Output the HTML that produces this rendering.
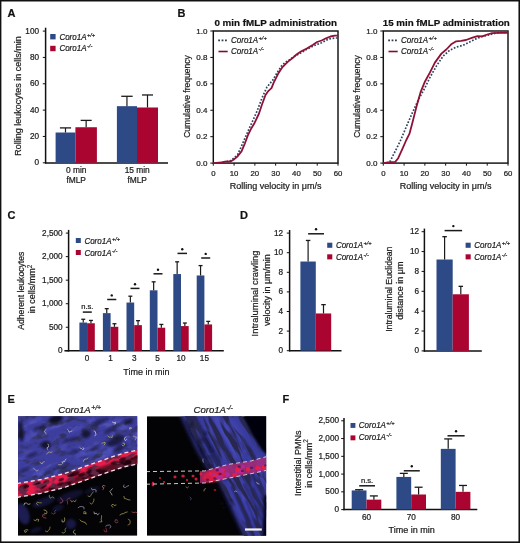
<!DOCTYPE html>
<html><head><meta charset="utf-8"><style>
html,body{margin:0;padding:0;background:#111;}
body{width:520px;height:543px;overflow:hidden;}
svg{display:block;font-family:'Liberation Sans', sans-serif;filter:blur(0.3px);}
text{stroke:#1c1c1c;stroke-width:0.22px;}
</style></head><body>
<svg width="520" height="543" viewBox="0 0 520 543">
<rect x="0" y="0" width="520" height="543" fill="#111"/>
<rect x="1.4" y="1.5" width="517.05" height="539.9" fill="#fff"/>
<defs>
<clipPath id="c1"><rect x="18" y="416.2" width="119.3" height="119.6"/></clipPath>
<clipPath id="c2"><rect x="147" y="416.2" width="119.2" height="119.6"/></clipPath>
<filter id="b1" x="-20%" y="-20%" width="140%" height="140%"><feGaussianBlur stdDeviation="1.2"/></filter>
<filter id="b2" x="-20%" y="-20%" width="140%" height="140%"><feGaussianBlur stdDeviation="2.2"/></filter>
<filter id="b3" x="-50%" y="-50%" width="200%" height="200%"><feGaussianBlur stdDeviation="3.5"/></filter>
<filter id="b05" x="-20%" y="-20%" width="140%" height="140%"><feGaussianBlur stdDeviation="0.5"/></filter>
<filter id="nz1" x="0" y="0" width="100%" height="100%"><feTurbulence type="fractalNoise" baseFrequency="0.08 0.13" numOctaves="3" seed="5"/><feColorMatrix type="matrix" values="0 0 0 0 0.03  0 0 0 0 0.03  0 0 0 0 0.12  4.5 0 0 0 -2.25"/></filter>
<filter id="nz2" x="0" y="0" width="100%" height="100%"><feTurbulence type="fractalNoise" baseFrequency="0.07 0.2" numOctaves="3" seed="9"/><feColorMatrix type="matrix" values="0 0 0 0 0.42  0 0 0 0 0.42  0 0 0 0 0.85  -4 0 0 0 1.75"/></filter>
<filter id="nz3" x="0" y="0" width="100%" height="100%"><feTurbulence type="fractalNoise" baseFrequency="0.12 0.25" numOctaves="2" seed="13"/><feColorMatrix type="matrix" values="0 0 0 0 0.12  0 0 0 0 0.02  0 0 0 0 0.06  5 0 0 0 -2.4"/></filter>
<filter id="nz4" x="0" y="0" width="100%" height="100%"><feTurbulence type="fractalNoise" baseFrequency="0.03 0.2" numOctaves="3" seed="21"/><feColorMatrix type="matrix" values="0 0 0 0 0.02  0 0 0 0 0.02  0 0 0 0 0.08  6.5 0 0 0 -2.9"/></filter>
<clipPath id="blue1"><path id="bp1" d="M14.0,412.0 L140.0,412.0 L140.0,445.0 L139.0,451.3 L124.2,454.4 L110.3,459.0 L87.2,467.1 L64.2,475.2 L41.0,481.0 L17.0,485.1 Z"/></clipPath>
<clipPath id="ves1"><path d="M17.0,483.6 L41.0,479.5 L64.2,473.7 L87.2,465.6 L110.3,457.5 L124.2,452.9 L139.0,449.8 L139.0,463.6 L124.2,466.8 L110.3,471.4 L87.2,479.5 L64.2,487.5 L41.0,493.3 L17.0,497.4 Z"/></clipPath>
<clipPath id="band2"><path d="M180.0,414.0 L240.0,414.0 L250.0,428.0 L258.0,440.0 L269.0,455.0 L269.0,515.0 L264.0,520.0 L264.0,538.0 L245.0,538.0 L234.0,515.0 L226.0,497.0 L219.0,481.0 L212.0,474.0 L205.0,464.0 L197.0,450.0 L190.0,435.0 Z"/></clipPath>
</defs>
<g clip-path="url(#c1)">
<rect x="18" y="416.2" width="119.3" height="119.6" fill="#040407"/>
<path d="M14.0,412.0 L140.0,412.0 L140.0,445.0 L139.0,451.3 L124.2,454.4 L110.3,459.0 L87.2,467.1 L64.2,475.2 L41.0,481.0 L17.0,485.1 Z" fill="#3c3e9e" filter="url(#b1)"/>
<ellipse cx="92.1" cy="450.0" rx="12.2" ry="3.9" fill="#5456c4" opacity="0.45" transform="rotate(-18 92.1 450.0)" filter="url(#b1)"/>
<ellipse cx="106.0" cy="453.8" rx="5.3" ry="2.9" fill="#5456c4" opacity="0.45" transform="rotate(-18 106.0 453.8)" filter="url(#b1)"/>
<ellipse cx="130.3" cy="437.8" rx="13.1" ry="2.2" fill="#5456c4" opacity="0.45" transform="rotate(-18 130.3 437.8)" filter="url(#b1)"/>
<ellipse cx="73.8" cy="428.9" rx="9.9" ry="3.1" fill="#5456c4" opacity="0.45" transform="rotate(-18 73.8 428.9)" filter="url(#b1)"/>
<ellipse cx="19.6" cy="430.1" rx="7.5" ry="3.8" fill="#5456c4" opacity="0.45" transform="rotate(-18 19.6 430.1)" filter="url(#b1)"/>
<ellipse cx="109.1" cy="422.4" rx="12.2" ry="2.3" fill="#5456c4" opacity="0.45" transform="rotate(-18 109.1 422.4)" filter="url(#b1)"/>
<ellipse cx="91.5" cy="421.8" rx="5.0" ry="3.7" fill="#5456c4" opacity="0.45" transform="rotate(-18 91.5 421.8)" filter="url(#b1)"/>
<ellipse cx="42.9" cy="429.1" rx="13.8" ry="3.7" fill="#5456c4" opacity="0.45" transform="rotate(-18 42.9 429.1)" filter="url(#b1)"/>
<ellipse cx="52.4" cy="472.4" rx="9.9" ry="3.4" fill="#5456c4" opacity="0.45" transform="rotate(-18 52.4 472.4)" filter="url(#b1)"/>
<ellipse cx="42.4" cy="473.5" rx="11.2" ry="3.9" fill="#5456c4" opacity="0.45" transform="rotate(-18 42.4 473.5)" filter="url(#b1)"/>
<ellipse cx="124.4" cy="426.4" rx="8.3" ry="2.3" fill="#5456c4" opacity="0.45" transform="rotate(-18 124.4 426.4)" filter="url(#b1)"/>
<ellipse cx="35.3" cy="420.1" rx="7.7" ry="3.2" fill="#5456c4" opacity="0.45" transform="rotate(-18 35.3 420.1)" filter="url(#b1)"/>
<ellipse cx="18.4" cy="460.3" rx="8.0" ry="2.6" fill="#5456c4" opacity="0.45" transform="rotate(-18 18.4 460.3)" filter="url(#b1)"/>
<ellipse cx="115.4" cy="434.2" rx="7.8" ry="3.0" fill="#5456c4" opacity="0.45" transform="rotate(-18 115.4 434.2)" filter="url(#b1)"/>
<ellipse cx="101.9" cy="418.4" rx="13.8" ry="2.0" fill="#5456c4" opacity="0.45" transform="rotate(-18 101.9 418.4)" filter="url(#b1)"/>
<ellipse cx="107.2" cy="450.3" rx="5.2" ry="3.6" fill="#5456c4" opacity="0.45" transform="rotate(-18 107.2 450.3)" filter="url(#b1)"/>
<ellipse cx="61.6" cy="448.6" rx="5.1" ry="2.1" fill="#5456c4" opacity="0.45" transform="rotate(-18 61.6 448.6)" filter="url(#b1)"/>
<ellipse cx="39.5" cy="475.0" rx="6.8" ry="3.5" fill="#5456c4" opacity="0.45" transform="rotate(-18 39.5 475.0)" filter="url(#b1)"/>
<ellipse cx="128.6" cy="448.0" rx="8.1" ry="2.7" fill="#5456c4" opacity="0.45" transform="rotate(-18 128.6 448.0)" filter="url(#b1)"/>
<ellipse cx="80.4" cy="454.8" rx="6.0" ry="3.5" fill="#5456c4" opacity="0.45" transform="rotate(-18 80.4 454.8)" filter="url(#b1)"/>
<ellipse cx="112.9" cy="449.2" rx="5.3" ry="3.9" fill="#5456c4" opacity="0.45" transform="rotate(-18 112.9 449.2)" filter="url(#b1)"/>
<ellipse cx="28.9" cy="437.7" rx="10.5" ry="3.8" fill="#5456c4" opacity="0.45" transform="rotate(-18 28.9 437.7)" filter="url(#b1)"/>
<ellipse cx="58.5" cy="468.8" rx="9.9" ry="2.6" fill="#5456c4" opacity="0.45" transform="rotate(-18 58.5 468.8)" filter="url(#b1)"/>
<ellipse cx="55.7" cy="426.3" rx="5.7" ry="2.3" fill="#5456c4" opacity="0.45" transform="rotate(-18 55.7 426.3)" filter="url(#b1)"/>
<ellipse cx="100.0" cy="459.0" rx="6.5" ry="2.1" fill="#5456c4" opacity="0.45" transform="rotate(-18 100.0 459.0)" filter="url(#b1)"/>
<ellipse cx="135.4" cy="433.4" rx="8.7" ry="2.5" fill="#5456c4" opacity="0.45" transform="rotate(-18 135.4 433.4)" filter="url(#b1)"/>
<g clip-path="url(#blue1)"><rect x="-40" y="380" width="220" height="180" filter="url(#nz1)" transform="rotate(-18 78 476)"/></g>
<g clip-path="url(#blue1)"><rect x="-40" y="380" width="220" height="180" filter="url(#nz2)" opacity="0.15" transform="rotate(-18 78 476)"/></g>
<ellipse cx="56" cy="419" rx="7" ry="4" fill="#0a0a22" opacity="0.95" transform="rotate(-20 56 419)" filter="url(#b1)"/>
<ellipse cx="21" cy="432" rx="3" ry="10" fill="#0a0a22" opacity="0.8" transform="rotate(-5 21 432)" filter="url(#b1)"/>
<ellipse cx="46" cy="445" rx="5" ry="4" fill="#0a0a22" opacity="0.85" transform="rotate(0 46 445)" filter="url(#b1)"/>
<ellipse cx="86" cy="434" rx="5" ry="4" fill="#0a0a22" opacity="0.8" transform="rotate(-20 86 434)" filter="url(#b1)"/>
<ellipse cx="116" cy="441" rx="10" ry="4" fill="#0a0a22" opacity="0.7" transform="rotate(-25 116 441)" filter="url(#b1)"/>
<ellipse cx="32" cy="455" rx="6" ry="2" fill="#0a0a22" opacity="0.5" transform="rotate(-20 32 455)" filter="url(#b1)"/>
<ellipse cx="100" cy="421" rx="10" ry="2.5" fill="#0a0a22" opacity="0.5" transform="rotate(-20 100 421)" filter="url(#b1)"/>
<ellipse cx="62" cy="466" rx="8" ry="2" fill="#0a0a22" opacity="0.5" transform="rotate(-20 62 466)" filter="url(#b1)"/>
<ellipse cx="132" cy="459" rx="6" ry="8" fill="#0a0a22" opacity="0.95" transform="rotate(0 132 459)" filter="url(#b1)"/>
<ellipse cx="74" cy="452" rx="5" ry="1.6" fill="#0a0a22" opacity="0.5" transform="rotate(-20 74 452)" filter="url(#b1)"/>
<ellipse cx="128" cy="422" rx="5" ry="3" fill="#0a0a22" opacity="0.6" transform="rotate(0 128 422)" filter="url(#b1)"/>
<ellipse cx="40" cy="428" rx="8" ry="2" fill="#0a0a22" opacity="0.45" transform="rotate(-20 40 428)" filter="url(#b1)"/>
<ellipse cx="70" cy="440" rx="8" ry="1.8" fill="#0a0a22" opacity="0.5" transform="rotate(-20 70 440)" filter="url(#b1)"/>
<ellipse cx="110" cy="430" rx="7" ry="2" fill="#0a0a22" opacity="0.5" transform="rotate(-20 110 430)" filter="url(#b1)"/>
<ellipse cx="25" cy="470" rx="6" ry="2" fill="#0a0a22" opacity="0.45" transform="rotate(-20 25 470)" filter="url(#b1)"/>
<ellipse cx="95" cy="448" rx="6" ry="2" fill="#0a0a22" opacity="0.45" transform="rotate(-20 95 448)" filter="url(#b1)"/>
<ellipse cx="50" cy="470" rx="5" ry="1.5" fill="#0a0a22" opacity="0.45" transform="rotate(-15 50 470)" filter="url(#b1)"/>
<ellipse cx="120" cy="448" rx="8" ry="3" fill="#0a0a22" opacity="0.6" transform="rotate(-30 120 448)" filter="url(#b1)"/>
<ellipse cx="23" cy="514" rx="6" ry="11" fill="#30328e" opacity="0.55" transform="rotate(-20 23 514)" filter="url(#b1)"/>
<ellipse cx="71" cy="524" rx="5" ry="5" fill="#30328e" opacity="0.45" transform="rotate(-20 71 524)" filter="url(#b1)"/>
<ellipse cx="44" cy="502" rx="12" ry="4" fill="#30328e" opacity="0.35" transform="rotate(-20 44 502)" filter="url(#b1)"/>
<ellipse cx="70" cy="496" rx="14" ry="4" fill="#30328e" opacity="0.3" transform="rotate(-20 70 496)" filter="url(#b1)"/>
<ellipse cx="92" cy="490" rx="8" ry="2.5" fill="#30328e" opacity="0.25" transform="rotate(-20 92 490)" filter="url(#b1)"/>
<ellipse cx="58" cy="508" rx="6" ry="3" fill="#30328e" opacity="0.3" transform="rotate(-20 58 508)" filter="url(#b1)"/>
<ellipse cx="36" cy="530" rx="6" ry="2.5" fill="#30328e" opacity="0.3" transform="rotate(-20 36 530)" filter="url(#b1)"/>
<path d="M17.0,483.6 L41.0,479.5 L64.2,473.7 L87.2,465.6 L110.3,457.5 L124.2,452.9 L139.0,449.8 L139.0,463.6 L124.2,466.8 L110.3,471.4 L87.2,479.5 L64.2,487.5 L41.0,493.3 L17.0,497.4 Z" fill="#e81c4c" filter="url(#b05)"/>
<path d="M40.0,490.0 L60.0,485.1 L80.0,474.4 L100.0,467.4 L120.0,460.5 L140.0,456.0 L140.0,463.6 L40.0,493.5 Z" fill="#2a0812" opacity="0.75" filter="url(#b1)"/>
<ellipse cx="46.1" cy="481.7" rx="3.0" ry="1.5" fill="#24050e" opacity="0.8" transform="rotate(-18 46.1 481.7)" filter="url(#b05)"/>
<ellipse cx="36.4" cy="483.4" rx="3.0" ry="1.5" fill="#24050e" opacity="0.8" transform="rotate(-18 36.4 483.4)" filter="url(#b05)"/>
<ellipse cx="127.2" cy="463.2" rx="3.9" ry="2.0" fill="#24050e" opacity="0.8" transform="rotate(-18 127.2 463.2)" filter="url(#b05)"/>
<ellipse cx="44.4" cy="486.1" rx="2.7" ry="1.4" fill="#24050e" opacity="0.8" transform="rotate(-18 44.4 486.1)" filter="url(#b05)"/>
<ellipse cx="38.5" cy="483.4" rx="2.6" ry="1.3" fill="#24050e" opacity="0.8" transform="rotate(-18 38.5 483.4)" filter="url(#b05)"/>
<ellipse cx="128.4" cy="463.1" rx="4.0" ry="2.0" fill="#24050e" opacity="0.8" transform="rotate(-18 128.4 463.1)" filter="url(#b05)"/>
<ellipse cx="113.3" cy="463.0" rx="2.8" ry="1.4" fill="#24050e" opacity="0.8" transform="rotate(-18 113.3 463.0)" filter="url(#b05)"/>
<ellipse cx="92.6" cy="473.1" rx="5.2" ry="2.6" fill="#24050e" opacity="0.8" transform="rotate(-18 92.6 473.1)" filter="url(#b05)"/>
<ellipse cx="122.7" cy="459.0" rx="3.5" ry="1.8" fill="#24050e" opacity="0.8" transform="rotate(-18 122.7 459.0)" filter="url(#b05)"/>
<ellipse cx="97.9" cy="470.6" rx="3.1" ry="1.6" fill="#24050e" opacity="0.8" transform="rotate(-18 97.9 470.6)" filter="url(#b05)"/>
<ellipse cx="74.4" cy="473.5" rx="5.4" ry="2.7" fill="#24050e" opacity="0.8" transform="rotate(-18 74.4 473.5)" filter="url(#b05)"/>
<ellipse cx="121.0" cy="463.0" rx="2.8" ry="1.4" fill="#24050e" opacity="0.8" transform="rotate(-18 121.0 463.0)" filter="url(#b05)"/>
<ellipse cx="126.2" cy="461.7" rx="4.2" ry="2.1" fill="#24050e" opacity="0.8" transform="rotate(-18 126.2 461.7)" filter="url(#b05)"/>
<ellipse cx="118.9" cy="463.4" rx="3.1" ry="1.5" fill="#24050e" opacity="0.8" transform="rotate(-18 118.9 463.4)" filter="url(#b05)"/>
<ellipse cx="89.3" cy="471.4" rx="3.1" ry="1.5" fill="#24050e" opacity="0.8" transform="rotate(-18 89.3 471.4)" filter="url(#b05)"/>
<ellipse cx="54.3" cy="486.2" rx="2.2" ry="1.1" fill="#24050e" opacity="0.8" transform="rotate(-18 54.3 486.2)" filter="url(#b05)"/>
<ellipse cx="23.5" cy="490.8" rx="2.8" ry="1.4" fill="#24050e" opacity="0.8" transform="rotate(-18 23.5 490.8)" filter="url(#b05)"/>
<ellipse cx="81.6" cy="474.5" rx="3.6" ry="1.8" fill="#24050e" opacity="0.8" transform="rotate(-18 81.6 474.5)" filter="url(#b05)"/>
<ellipse cx="136.7" cy="456.7" rx="3.1" ry="1.5" fill="#24050e" opacity="0.8" transform="rotate(-18 136.7 456.7)" filter="url(#b05)"/>
<ellipse cx="42.1" cy="487.6" rx="2.7" ry="1.4" fill="#24050e" opacity="0.8" transform="rotate(-18 42.1 487.6)" filter="url(#b05)"/>
<ellipse cx="60.3" cy="484.1" rx="3.6" ry="1.8" fill="#24050e" opacity="0.8" transform="rotate(-18 60.3 484.1)" filter="url(#b05)"/>
<ellipse cx="84.5" cy="477.6" rx="2.9" ry="1.5" fill="#24050e" opacity="0.8" transform="rotate(-18 84.5 477.6)" filter="url(#b05)"/>
<ellipse cx="25.3" cy="486.8" rx="3.9" ry="2.0" fill="#24050e" opacity="0.8" transform="rotate(-18 25.3 486.8)" filter="url(#b05)"/>
<ellipse cx="91.2" cy="468.9" rx="3.6" ry="1.8" fill="#24050e" opacity="0.8" transform="rotate(-18 91.2 468.9)" filter="url(#b05)"/>
<ellipse cx="39.1" cy="486.6" rx="2.2" ry="1.1" fill="#24050e" opacity="0.8" transform="rotate(-18 39.1 486.6)" filter="url(#b05)"/>
<ellipse cx="101.0" cy="472.4" rx="4.4" ry="2.2" fill="#24050e" opacity="0.8" transform="rotate(-18 101.0 472.4)" filter="url(#b05)"/>
<ellipse cx="105.5" cy="471.3" rx="2.1" ry="1.1" fill="#24050e" opacity="0.8" transform="rotate(-18 105.5 471.3)" filter="url(#b05)"/>
<ellipse cx="52.4" cy="488.1" rx="3.9" ry="2.0" fill="#24050e" opacity="0.8" transform="rotate(-18 52.4 488.1)" filter="url(#b05)"/>
<ellipse cx="66.8" cy="484.1" rx="4.5" ry="2.2" fill="#24050e" opacity="0.8" transform="rotate(-18 66.8 484.1)" filter="url(#b05)"/>
<ellipse cx="115.3" cy="463.0" rx="2.5" ry="1.3" fill="#24050e" opacity="0.8" transform="rotate(-18 115.3 463.0)" filter="url(#b05)"/>
<ellipse cx="70.9" cy="475.1" rx="3.7" ry="1.9" fill="#24050e" opacity="0.8" transform="rotate(-18 70.9 475.1)" filter="url(#b05)"/>
<ellipse cx="132.5" cy="458.6" rx="2.1" ry="1.1" fill="#24050e" opacity="0.8" transform="rotate(-18 132.5 458.6)" filter="url(#b05)"/>
<ellipse cx="23.3" cy="486.6" rx="4.0" ry="2.0" fill="#24050e" opacity="0.8" transform="rotate(-18 23.3 486.6)" filter="url(#b05)"/>
<ellipse cx="61.2" cy="479.7" rx="2.9" ry="1.4" fill="#24050e" opacity="0.8" transform="rotate(-18 61.2 479.7)" filter="url(#b05)"/>
<g clip-path="url(#ves1)"><rect x="-40" y="380" width="220" height="180" filter="url(#nz3)" transform="rotate(-18 78 476)"/></g>
<path d="M17.0,483.6 L41.0,479.5 L64.2,473.7 L87.2,465.6 L110.3,457.5 L124.2,452.9 L139.0,449.8" fill="none" stroke="#f4dde6" stroke-width="1.3" stroke-dasharray="4,3"/>
<path d="M17.0,497.4 L41.0,493.3 L64.2,487.5 L87.2,479.5 L110.3,471.4 L124.2,466.8 L139.0,463.6" fill="none" stroke="#f4dde6" stroke-width="1.3" stroke-dasharray="4,3"/>
<path d="M94.0,431.0 L95.4,431.7 L95.6,433.3 L96.1,434.8 L94.8,435.7" fill="none" stroke="#f0f0f0" stroke-width="0.7" stroke-linecap="round" stroke-linejoin="round" opacity="0.85"/>
<path d="M48.0,444.0 L48.6,445.5 L48.4,447.1 L47.0,447.7 L47.4,449.3" fill="none" stroke="#e6e6e0" stroke-width="0.7" stroke-linecap="round" stroke-linejoin="round" opacity="0.85"/>
<path d="M62.0,462.0 L62.8,463.4 L61.6,464.4 L60.0,464.8 L58.5,464.6" fill="none" stroke="#c8c8a0" stroke-width="0.7" stroke-linecap="round" stroke-linejoin="round" opacity="0.85"/>
<path d="M80.0,448.0 L81.5,448.5 L82.7,449.6 L84.1,448.9 L83.1,447.6" fill="none" stroke="#f0f0f0" stroke-width="0.7" stroke-linecap="round" stroke-linejoin="round" opacity="0.85"/>
<path d="M104.0,445.0 L105.2,443.9 L105.0,442.3 L103.5,442.7 L102.0,443.2" fill="none" stroke="#d8d27a" stroke-width="0.7" stroke-linecap="round" stroke-linejoin="round" opacity="0.85"/>
<path d="M126.0,437.0 L124.6,437.8 L124.5,439.4 L125.5,440.7 L126.5,439.4" fill="none" stroke="#f0f0f0" stroke-width="0.7" stroke-linecap="round" stroke-linejoin="round" opacity="0.85"/>
<path d="M131.0,428.0 L130.2,429.4 L129.0,428.3 L130.3,427.4 L131.6,428.3" fill="none" stroke="#d8d27a" stroke-width="0.7" stroke-linecap="round" stroke-linejoin="round" opacity="0.85"/>
<path d="M40.0,462.0 L40.9,463.4 L42.4,463.7 L42.8,462.2 L44.3,461.7" fill="none" stroke="#c8c8a0" stroke-width="0.7" stroke-linecap="round" stroke-linejoin="round" opacity="0.85"/>
<path d="M114.0,424.0 L115.6,423.9 L115.5,422.3 L113.9,422.7 L112.5,422.0" fill="none" stroke="#f0f0f0" stroke-width="0.7" stroke-linecap="round" stroke-linejoin="round" opacity="0.85"/>
<path d="M72.0,431.0 L70.5,431.5 L69.1,432.2 L68.6,430.7 L67.6,429.5" fill="none" stroke="#e6e6e0" stroke-width="0.7" stroke-linecap="round" stroke-linejoin="round" opacity="0.85"/>
<path d="M88.0,458.0 L86.7,459.0 L85.1,459.1 L83.9,460.0 L83.4,461.5" fill="none" stroke="#d8d27a" stroke-width="0.7" stroke-linecap="round" stroke-linejoin="round" opacity="0.85"/>
<path d="M122.0,445.0 L123.2,446.0 L124.5,445.0 L124.4,443.4 L122.9,443.2" fill="none" stroke="#d8d27a" stroke-width="0.7" stroke-linecap="round" stroke-linejoin="round" opacity="0.85"/>
<path d="M52.0,452.0 L50.5,452.4 L49.0,451.8 L47.8,452.9 L46.6,453.9" fill="none" stroke="#d8d27a" stroke-width="0.7" stroke-linecap="round" stroke-linejoin="round" opacity="0.85"/>
<path d="M66.0,459.0 L65.0,460.3 L64.6,461.8 L63.2,461.1 L62.8,462.7" fill="none" stroke="#e6e6e0" stroke-width="0.7" stroke-linecap="round" stroke-linejoin="round" opacity="0.85"/>
<path d="M46.0,434.0 L45.7,432.4 L44.2,432.0 L44.9,430.6 L46.1,429.5" fill="none" stroke="#c8c8a0" stroke-width="0.7" stroke-linecap="round" stroke-linejoin="round" opacity="0.85"/>
<path d="M135.0,440.0 L135.9,438.6 L136.4,437.1 L134.8,436.9 L133.5,436.1" fill="none" stroke="#d8d27a" stroke-width="0.7" stroke-linecap="round" stroke-linejoin="round" opacity="0.85"/>
<path d="M108.0,436.0 L109.0,437.2 L110.6,437.0 L112.1,437.5 L112.4,435.9" fill="none" stroke="#c8c8a0" stroke-width="0.7" stroke-linecap="round" stroke-linejoin="round" opacity="0.85"/>
<path d="M38.0,470.0 L37.1,471.3 L35.9,470.3 L34.6,469.4 L33.5,468.2" fill="none" stroke="#c8c8a0" stroke-width="0.7" stroke-linecap="round" stroke-linejoin="round" opacity="0.85"/>
<path d="M70.0,498.0 L68.1,498.5 L66.9,500.1 L67.6,502.0 L67.5,504.0" fill="none" stroke="#9a4a6a" stroke-width="0.7" stroke-linecap="round" stroke-linejoin="round" opacity="0.85"/>
<path d="M76.0,500.0 L75.1,501.8 L73.3,500.8 L71.7,501.9 L70.6,500.2" fill="none" stroke="#c8b050" stroke-width="0.7" stroke-linecap="round" stroke-linejoin="round" opacity="0.85"/>
<path d="M105.0,486.0 L103.1,485.3 L102.2,487.0 L104.0,487.8 L103.0,489.6" fill="none" stroke="#d08a9a" stroke-width="0.7" stroke-linecap="round" stroke-linejoin="round" opacity="0.85"/>
<path d="M112.0,495.0 L111.1,493.2 L109.8,491.7 L111.1,490.2 L112.3,488.7" fill="none" stroke="#e6e6e0" stroke-width="0.7" stroke-linecap="round" stroke-linejoin="round" opacity="0.85"/>
<path d="M124.0,485.0 L123.4,486.9 L125.2,487.6 L126.9,486.4 L128.7,485.6" fill="none" stroke="#b8b4d0" stroke-width="0.7" stroke-linecap="round" stroke-linejoin="round" opacity="0.85"/>
<path d="M56.0,510.0 L54.6,511.4 L55.2,513.4 L53.3,514.1 L51.6,513.0" fill="none" stroke="#9a4a6a" stroke-width="0.7" stroke-linecap="round" stroke-linejoin="round" opacity="0.85"/>
<path d="M62.0,520.0 L62.2,522.0 L64.1,521.8 L64.8,519.9 L64.5,517.9" fill="none" stroke="#d8d27a" stroke-width="0.7" stroke-linecap="round" stroke-linejoin="round" opacity="0.85"/>
<path d="M84.0,509.0 L83.9,507.0 L81.9,506.6 L79.9,506.6 L78.2,507.7" fill="none" stroke="#b8b4d0" stroke-width="0.7" stroke-linecap="round" stroke-linejoin="round" opacity="0.85"/>
<path d="M86.0,514.0 L85.9,512.0 L83.9,511.6 L83.7,513.6 L85.7,513.5" fill="none" stroke="#c8b050" stroke-width="0.7" stroke-linecap="round" stroke-linejoin="round" opacity="0.85"/>
<path d="M100.0,522.0 L102.0,521.6 L101.2,519.7 L101.5,517.7 L101.6,515.7" fill="none" stroke="#c9c46a" stroke-width="0.7" stroke-linecap="round" stroke-linejoin="round" opacity="0.85"/>
<path d="M90.0,503.0 L91.6,504.2 L92.9,502.6 L93.8,500.9 L93.9,498.9" fill="none" stroke="#c8b050" stroke-width="0.7" stroke-linecap="round" stroke-linejoin="round" opacity="0.85"/>
<path d="M44.0,510.0 L46.0,510.4 L47.1,512.1 L46.2,513.9 L44.4,513.2" fill="none" stroke="#d8d27a" stroke-width="0.7" stroke-linecap="round" stroke-linejoin="round" opacity="0.85"/>
<path d="M34.0,520.0 L35.8,520.8 L36.7,519.1 L38.7,519.5 L38.2,521.4" fill="none" stroke="#c9c46a" stroke-width="0.7" stroke-linecap="round" stroke-linejoin="round" opacity="0.85"/>
<path d="M120.0,515.0 L121.7,513.9 L123.6,513.6 L125.3,512.5 L127.2,512.0" fill="none" stroke="#d8d27a" stroke-width="0.7" stroke-linecap="round" stroke-linejoin="round" opacity="0.85"/>
<path d="M110.0,528.0 L111.0,526.3 L109.6,525.0 L107.6,525.2 L105.8,526.1" fill="none" stroke="#b8b4d0" stroke-width="0.7" stroke-linecap="round" stroke-linejoin="round" opacity="0.85"/>
<path d="M130.0,500.0 L128.0,499.7 L126.2,498.9 L124.3,498.4 L124.0,496.4" fill="none" stroke="#c9c46a" stroke-width="0.7" stroke-linecap="round" stroke-linejoin="round" opacity="0.85"/>
<path d="M28.0,530.0 L26.0,529.7 L24.3,530.7 L25.1,532.5 L26.8,531.4" fill="none" stroke="#d8d27a" stroke-width="0.7" stroke-linecap="round" stroke-linejoin="round" opacity="0.85"/>
<path d="M50.0,527.0 L49.7,529.0 L48.4,530.5 L47.1,532.0 L45.4,531.0" fill="none" stroke="#c8b050" stroke-width="0.7" stroke-linecap="round" stroke-linejoin="round" opacity="0.85"/>
<path d="M75.0,530.0 L73.4,531.1 L73.6,533.1 L75.5,533.7 L75.2,535.6" fill="none" stroke="#c9c46a" stroke-width="0.7" stroke-linecap="round" stroke-linejoin="round" opacity="0.85"/>
<path d="M128.0,525.0 L129.8,524.1 L130.2,522.2 L129.9,520.2 L128.2,519.2" fill="none" stroke="#c8b050" stroke-width="0.7" stroke-linecap="round" stroke-linejoin="round" opacity="0.85"/>
<path d="M38.0,505.0 L36.4,503.8 L37.5,502.1 L39.4,502.8 L41.4,502.8" fill="none" stroke="#c8b050" stroke-width="0.7" stroke-linecap="round" stroke-linejoin="round" opacity="0.85"/>
<path d="M96.0,492.0 L96.1,490.0 L94.1,489.4 L92.2,490.0 L91.4,488.1" fill="none" stroke="#b8b4d0" stroke-width="0.7" stroke-linecap="round" stroke-linejoin="round" opacity="0.85"/>
<path d="M60.0,503.0 L62.0,502.6 L63.0,500.9 L61.9,499.3 L60.4,497.9" fill="none" stroke="#d06070" stroke-width="0.7" stroke-linecap="round" stroke-linejoin="round" opacity="0.85"/>
<path d="M80.0,520.0 L81.5,521.3 L83.4,521.9 L85.3,522.6 L86.4,524.3" fill="none" stroke="#e0d070" stroke-width="0.7" stroke-linecap="round" stroke-linejoin="round" opacity="0.85"/>
<path d="M94.0,512.0 L94.5,513.9 L96.4,513.2 L97.5,514.8 L99.1,513.6" fill="none" stroke="#e8e8e8" stroke-width="0.7" stroke-linecap="round" stroke-linejoin="round" opacity="0.85"/>
<path d="M116.0,505.0 L114.1,505.5 L112.7,504.0 L111.5,505.6 L112.7,507.2" fill="none" stroke="#e0d070" stroke-width="0.7" stroke-linecap="round" stroke-linejoin="round" opacity="0.85"/>
<path d="M66.0,528.0 L64.9,529.7 L65.4,531.6 L64.0,533.1 L62.1,532.6" fill="none" stroke="#a0c070" stroke-width="0.7" stroke-linecap="round" stroke-linejoin="round" opacity="0.85"/>
<path d="M46.0,518.0 L44.0,517.7 L42.5,516.5 L42.9,514.5 L44.8,515.1" fill="none" stroke="#d06070" stroke-width="0.7" stroke-linecap="round" stroke-linejoin="round" opacity="0.85"/>
<path d="M104.0,530.0 L104.8,531.8 L106.8,531.8 L106.4,529.9 L105.9,528.0" fill="none" stroke="#c04050" stroke-width="0.7" stroke-linecap="round" stroke-linejoin="round" opacity="0.85"/>
<path d="M132.0,512.0 L133.9,512.6 L135.8,512.1 L137.6,513.0 L139.4,514.0" fill="none" stroke="#d06070" stroke-width="0.7" stroke-linecap="round" stroke-linejoin="round" opacity="0.85"/>
<path d="M24.0,505.0 L24.6,503.1 L26.6,503.1 L28.1,504.4 L30.1,503.9" fill="none" stroke="#e8e8e8" stroke-width="0.7" stroke-linecap="round" stroke-linejoin="round" opacity="0.85"/>
<path d="M88.0,496.0 L89.9,496.7 L91.0,495.1 L91.9,493.3 L93.4,492.0" fill="none" stroke="#a0c070" stroke-width="0.7" stroke-linecap="round" stroke-linejoin="round" opacity="0.85"/>
<path d="M118.0,522.0 L116.3,523.0 L114.9,521.5 L115.6,519.6 L117.5,520.3" fill="none" stroke="#d06070" stroke-width="0.7" stroke-linecap="round" stroke-linejoin="round" opacity="0.85"/>
<path d="M54.0,498.0 L52.4,496.8 L51.0,498.2 L49.3,497.2 L49.3,495.2" fill="none" stroke="#a0c070" stroke-width="0.7" stroke-linecap="round" stroke-linejoin="round" opacity="0.85"/>
</g>
<g clip-path="url(#c2)">
<rect x="147" y="416.2" width="119.2" height="119.6" fill="#030305"/>
<path d="M180.0,414.0 L240.0,414.0 L250.0,428.0 L258.0,440.0 L269.0,455.0 L269.0,515.0 L264.0,520.0 L264.0,538.0 L245.0,538.0 L234.0,515.0 L226.0,497.0 L219.0,481.0 L212.0,474.0 L205.0,464.0 L197.0,450.0 L190.0,435.0 Z" fill="#383a9c" filter="url(#b2)"/>
<ellipse cx="226" cy="436" rx="14" ry="26" fill="#4c4ec0" opacity="0.7" transform="rotate(-32 226 436)" filter="url(#b3)"/>
<ellipse cx="244" cy="500" rx="8" ry="26" fill="#4a4cc2" opacity="0.6" transform="rotate(-25 244 500)" filter="url(#b3)"/>
<ellipse cx="258" cy="470" rx="6" ry="14" fill="#4a4cc2" opacity="0.6" transform="rotate(-25 258 470)" filter="url(#b3)"/>
<line x1="186" y1="420" x2="212" y2="470" stroke="#0a0a24" stroke-width="3" opacity="0.75" filter="url(#b1)"/>
<line x1="194" y1="416" x2="220" y2="462" stroke="#0a0a24" stroke-width="2" opacity="0.6" filter="url(#b1)"/>
<line x1="205" y1="440" x2="226" y2="480" stroke="#0a0a24" stroke-width="2.5" opacity="0.65" filter="url(#b1)"/>
<line x1="232" y1="486" x2="252" y2="530" stroke="#0a0a24" stroke-width="2.5" opacity="0.6" filter="url(#b1)"/>
<line x1="244" y1="484" x2="262" y2="520" stroke="#0a0a24" stroke-width="2" opacity="0.55" filter="url(#b1)"/>
<line x1="210" y1="418" x2="232" y2="456" stroke="#0a0a24" stroke-width="1.6" opacity="0.5" filter="url(#b1)"/>
<line x1="250" y1="470" x2="266" y2="500" stroke="#0a0a24" stroke-width="3" opacity="0.55" filter="url(#b1)"/>
<line x1="222" y1="492" x2="240" y2="532" stroke="#0a0a24" stroke-width="1.5" opacity="0.45" filter="url(#b1)"/>
<line x1="200" y1="430" x2="212" y2="452" stroke="#0a0a24" stroke-width="2" opacity="0.6" filter="url(#b1)"/>
<line x1="226" y1="420" x2="244" y2="450" stroke="#0a0a24" stroke-width="1.2" opacity="0.45" filter="url(#b1)"/>
<line x1="238" y1="496" x2="250" y2="522" stroke="#0a0a24" stroke-width="1.8" opacity="0.5" filter="url(#b1)"/>
<line x1="198" y1="446" x2="214" y2="476" stroke="#0a0a24" stroke-width="1.8" opacity="0.6" filter="url(#b1)"/>
<line x1="190" y1="428" x2="204" y2="452" stroke="#0a0a24" stroke-width="2.5" opacity="0.7" filter="url(#b1)"/>
<line x1="214" y1="430" x2="228" y2="456" stroke="#0a0a24" stroke-width="2" opacity="0.55" filter="url(#b1)"/>
<line x1="252" y1="488" x2="266" y2="516" stroke="#0a0a24" stroke-width="2.5" opacity="0.6" filter="url(#b1)"/>
<line x1="246" y1="500" x2="258" y2="530" stroke="#0a0a24" stroke-width="1.5" opacity="0.5" filter="url(#b1)"/>
<g clip-path="url(#band2)"><rect x="100" y="380" width="220" height="200" filter="url(#nz4)" transform="rotate(62 207 476)"/></g>
<rect x="202.3" y="437.6" width="3.4" height="2.4" fill="#08081c" opacity="0.35" filter="url(#b1)"/>
<rect x="229.0" y="499.4" width="3.5" height="2.5" fill="#08081c" opacity="0.35" filter="url(#b1)"/>
<rect x="191.3" y="421.0" width="2.2" height="3.6" fill="#08081c" opacity="0.35" filter="url(#b1)"/>
<rect x="198.5" y="439.6" width="5.0" height="3.5" fill="#08081c" opacity="0.35" filter="url(#b1)"/>
<rect x="229.6" y="503.8" width="3.0" height="3.0" fill="#08081c" opacity="0.35" filter="url(#b1)"/>
<rect x="204.0" y="430.5" width="2.5" height="3.6" fill="#08081c" opacity="0.35" filter="url(#b1)"/>
<rect x="204.0" y="432.1" width="3.7" height="2.7" fill="#08081c" opacity="0.35" filter="url(#b1)"/>
<rect x="208.0" y="464.8" width="4.6" height="2.5" fill="#08081c" opacity="0.35" filter="url(#b1)"/>
<rect x="220.1" y="501.8" width="4.7" height="3.5" fill="#08081c" opacity="0.35" filter="url(#b1)"/>
<rect x="224.6" y="498.1" width="2.4" height="3.0" fill="#08081c" opacity="0.35" filter="url(#b1)"/>
<rect x="221.9" y="506.1" width="4.7" height="2.8" fill="#08081c" opacity="0.35" filter="url(#b1)"/>
<rect x="206.9" y="455.6" width="5.0" height="2.8" fill="#08081c" opacity="0.35" filter="url(#b1)"/>
<rect x="188.4" y="424.4" width="5.0" height="3.0" fill="#08081c" opacity="0.35" filter="url(#b1)"/>
<rect x="213.4" y="471.1" width="2.7" height="3.2" fill="#08081c" opacity="0.35" filter="url(#b1)"/>
<path d="M243,414 L270,414 L270,457 L262,450 L252,434 Z" fill="#040408" filter="url(#b1)"/>
<path d="M264,496 L270,494 L270,540 L263,540 Z" fill="#06061a" opacity="0.9" filter="url(#b1)"/>
<path d="M200.0,471.0 L204.7,470.9 L227.8,464.5 L250.9,461.0 L268.0,456.2 L268.0,470.0 L250.9,473.7 L227.8,478.3 L204.7,483.0 L200.0,483.0 Z" fill="#b02a78" opacity="0.8" filter="url(#b05)"/>
<ellipse cx="214" cy="476" rx="12" ry="6" fill="#e01c40" opacity="0.85" transform="rotate(-12 214 476)" filter="url(#b1)"/>
<ellipse cx="238.9" cy="470.8" rx="3.1" ry="1.7" fill="#f01c40" opacity="0.85" filter="url(#b05)"/>
<ellipse cx="259.1" cy="469.5" rx="1.9" ry="2.4" fill="#b02aa0" opacity="0.85" filter="url(#b05)"/>
<ellipse cx="234.7" cy="475.1" rx="2.6" ry="2.0" fill="#f01c40" opacity="0.85" filter="url(#b05)"/>
<ellipse cx="243.0" cy="466.7" rx="2.1" ry="2.1" fill="#b02aa0" opacity="0.85" filter="url(#b05)"/>
<ellipse cx="241.3" cy="471.4" rx="2.4" ry="2.7" fill="#f01c40" opacity="0.85" filter="url(#b05)"/>
<ellipse cx="238.0" cy="471.5" rx="1.7" ry="1.3" fill="#f01c40" opacity="0.85" filter="url(#b05)"/>
<ellipse cx="220.9" cy="470.1" rx="3.3" ry="2.5" fill="#b02aa0" opacity="0.85" filter="url(#b05)"/>
<ellipse cx="223.3" cy="469.8" rx="2.0" ry="1.2" fill="#f01c40" opacity="0.85" filter="url(#b05)"/>
<ellipse cx="222.2" cy="471.7" rx="1.9" ry="1.4" fill="#b02aa0" opacity="0.85" filter="url(#b05)"/>
<ellipse cx="258.0" cy="468.1" rx="2.6" ry="1.4" fill="#b02aa0" opacity="0.85" filter="url(#b05)"/>
<ellipse cx="210.5" cy="473.8" rx="1.6" ry="1.7" fill="#f01c40" opacity="0.85" filter="url(#b05)"/>
<ellipse cx="215.1" cy="476.0" rx="2.4" ry="2.1" fill="#f01c40" opacity="0.85" filter="url(#b05)"/>
<ellipse cx="237.0" cy="472.7" rx="2.1" ry="1.3" fill="#b02aa0" opacity="0.85" filter="url(#b05)"/>
<ellipse cx="226.9" cy="474.6" rx="1.7" ry="2.8" fill="#b02aa0" opacity="0.85" filter="url(#b05)"/>
<ellipse cx="237.2" cy="469.2" rx="2.1" ry="2.8" fill="#f01c40" opacity="0.85" filter="url(#b05)"/>
<ellipse cx="213.3" cy="474.8" rx="2.7" ry="1.3" fill="#b02aa0" opacity="0.85" filter="url(#b05)"/>
<ellipse cx="240.9" cy="471.4" rx="2.4" ry="2.0" fill="#b02aa0" opacity="0.85" filter="url(#b05)"/>
<ellipse cx="219.4" cy="477.2" rx="3.4" ry="2.1" fill="#b02aa0" opacity="0.85" filter="url(#b05)"/>
<ellipse cx="228.0" cy="474.6" rx="2.1" ry="1.4" fill="#b02aa0" opacity="0.85" filter="url(#b05)"/>
<ellipse cx="247.8" cy="469.1" rx="2.1" ry="2.3" fill="#f01c40" opacity="0.85" filter="url(#b05)"/>
<ellipse cx="263.9" cy="467.6" rx="2.4" ry="2.7" fill="#f01c40" opacity="0.85" filter="url(#b05)"/>
<ellipse cx="257.7" cy="468.2" rx="2.7" ry="2.1" fill="#f01c40" opacity="0.85" filter="url(#b05)"/>
<ellipse cx="242.4" cy="470.9" rx="1.6" ry="1.2" fill="#301040" opacity="0.6" filter="url(#b05)"/>
<ellipse cx="217.4" cy="470.2" rx="1.6" ry="1.2" fill="#301040" opacity="0.6" filter="url(#b05)"/>
<ellipse cx="220.0" cy="474.0" rx="1.6" ry="1.2" fill="#301040" opacity="0.6" filter="url(#b05)"/>
<ellipse cx="239.1" cy="466.6" rx="1.6" ry="1.2" fill="#301040" opacity="0.6" filter="url(#b05)"/>
<ellipse cx="214.9" cy="478.5" rx="1.6" ry="1.2" fill="#301040" opacity="0.6" filter="url(#b05)"/>
<ellipse cx="207.5" cy="479.8" rx="1.6" ry="1.2" fill="#301040" opacity="0.6" filter="url(#b05)"/>
<ellipse cx="251.6" cy="467.8" rx="1.6" ry="1.2" fill="#301040" opacity="0.6" filter="url(#b05)"/>
<ellipse cx="265.7" cy="465.4" rx="1.6" ry="1.2" fill="#301040" opacity="0.6" filter="url(#b05)"/>
<ellipse cx="153" cy="484" rx="1.4" ry="2.5" fill="#e0203c" opacity="0.9"/>
<ellipse cx="164" cy="482" rx="1.1" ry="1" fill="#e0203c" opacity="0.9"/>
<ellipse cx="175" cy="477" rx="1.6" ry="1.4" fill="#e0203c" opacity="0.9"/>
<ellipse cx="183" cy="476" rx="1.8" ry="1.6" fill="#e0203c" opacity="0.9"/>
<ellipse cx="193" cy="476" rx="1.5" ry="1.2" fill="#e0203c" opacity="0.9"/>
<ellipse cx="187" cy="480" rx="1.2" ry="1" fill="#e0203c" opacity="0.9"/>
<ellipse cx="160" cy="478" rx="1" ry="1" fill="#e0203c" opacity="0.9"/>
<ellipse cx="196" cy="479" rx="1.5" ry="1.5" fill="#e0203c" opacity="0.9"/>
<ellipse cx="201" cy="474" rx="1.5" ry="1.8" fill="#e0203c" opacity="0.9"/>
<ellipse cx="215" cy="490" rx="1.4" ry="0.8" fill="#e0203c" opacity="0.9"/>
<path d="M146.0,471.6 L204.7,470.9 L227.8,464.5 L250.9,461.0 L268.0,456.2" fill="none" stroke="#cfcaca" stroke-width="1.0" stroke-dasharray="4,3"/>
<path d="M146.0,484.2 L204.7,483.0 L227.8,478.3 L250.9,473.7 L268.0,470.0" fill="none" stroke="#cfcaca" stroke-width="1.0" stroke-dasharray="4,3"/>
<path d="M203.0,459.0 L202.9,460.6 L203.3,462.1" fill="none" stroke="#c8c080" stroke-width="0.7" stroke-linecap="round" stroke-linejoin="round" opacity="0.85"/>
<path d="M186.0,487.0 L187.3,487.9 L188.5,486.9" fill="none" stroke="#b0b060" stroke-width="0.7" stroke-linecap="round" stroke-linejoin="round" opacity="0.85"/>
<path d="M204.0,491.0 L204.2,489.4 L205.6,488.7" fill="none" stroke="#c0c080" stroke-width="0.7" stroke-linecap="round" stroke-linejoin="round" opacity="0.85"/>
<path d="M237.0,492.0 L235.9,490.8 L234.6,491.6" fill="none" stroke="#c0c0e0" stroke-width="0.7" stroke-linecap="round" stroke-linejoin="round" opacity="0.85"/>
<path d="M259.0,484.0 L257.4,483.6 L256.7,482.2" fill="none" stroke="#e0e0f0" stroke-width="0.7" stroke-linecap="round" stroke-linejoin="round" opacity="0.85"/>
<path d="M190.0,497.0 L191.1,498.2 L190.8,499.8" fill="none" stroke="#6060c0" stroke-width="0.7" stroke-linecap="round" stroke-linejoin="round" opacity="0.85"/>
<rect x="245" y="528.4" width="16.8" height="2.2" fill="#f4f4f4"/>
</g>
<text x="7.60" y="16.90" font-size="11" text-anchor="start" font-weight="bold" font-style="normal" fill="#111" >A</text>
<line x1="45.60" y1="163.50" x2="45.60" y2="27.70" stroke="#111" stroke-width="1.5" />
<line x1="42.80" y1="162.80" x2="45.60" y2="162.80" stroke="#111" stroke-width="1.0" />
<text x="39.00" y="165.35" font-size="8.2" text-anchor="end" font-weight="normal" font-style="normal" fill="#1c1c1c" >0</text>
<line x1="42.80" y1="136.46" x2="45.60" y2="136.46" stroke="#111" stroke-width="1.0" />
<text x="39.00" y="139.01" font-size="8.2" text-anchor="end" font-weight="normal" font-style="normal" fill="#1c1c1c" >20</text>
<line x1="42.80" y1="110.12" x2="45.60" y2="110.12" stroke="#111" stroke-width="1.0" />
<text x="39.00" y="112.67" font-size="8.2" text-anchor="end" font-weight="normal" font-style="normal" fill="#1c1c1c" >40</text>
<line x1="42.80" y1="83.78" x2="45.60" y2="83.78" stroke="#111" stroke-width="1.0" />
<text x="39.00" y="86.33" font-size="8.2" text-anchor="end" font-weight="normal" font-style="normal" fill="#1c1c1c" >60</text>
<line x1="42.80" y1="57.44" x2="45.60" y2="57.44" stroke="#111" stroke-width="1.0" />
<text x="39.00" y="59.99" font-size="8.2" text-anchor="end" font-weight="normal" font-style="normal" fill="#1c1c1c" >80</text>
<line x1="42.80" y1="31.10" x2="45.60" y2="31.10" stroke="#111" stroke-width="1.0" />
<text x="39.00" y="33.65" font-size="8.2" text-anchor="end" font-weight="normal" font-style="normal" fill="#1c1c1c" >100</text>
<line x1="45.00" y1="162.90" x2="168.00" y2="162.90" stroke="#111" stroke-width="1.5" />
<rect x="55.60" y="132.51" width="19.80" height="30.29" fill="#2e4a86"/>
<line x1="65.50" y1="132.51" x2="65.50" y2="127.90" stroke="#1a1a1a" stroke-width="1.2" />
<line x1="59.90" y1="127.90" x2="71.10" y2="127.90" stroke="#1a1a1a" stroke-width="1.3" />
<rect x="75.40" y="127.24" width="21.50" height="35.56" fill="#a90530"/>
<line x1="86.15" y1="127.24" x2="86.15" y2="120.39" stroke="#1a1a1a" stroke-width="1.2" />
<line x1="80.65" y1="120.39" x2="91.65" y2="120.39" stroke="#1a1a1a" stroke-width="1.3" />
<rect x="116.90" y="106.17" width="20.10" height="56.63" fill="#2e4a86"/>
<line x1="126.95" y1="106.17" x2="126.95" y2="96.29" stroke="#1a1a1a" stroke-width="1.2" />
<line x1="121.25" y1="96.29" x2="132.65" y2="96.29" stroke="#1a1a1a" stroke-width="1.3" />
<rect x="137.00" y="107.49" width="21.00" height="55.31" fill="#a90530"/>
<line x1="147.50" y1="107.49" x2="147.50" y2="94.97" stroke="#1a1a1a" stroke-width="1.2" />
<line x1="142.00" y1="94.97" x2="153.00" y2="94.97" stroke="#1a1a1a" stroke-width="1.3" />
<rect x="50.20" y="34.00" width="5.40" height="5.40" fill="#2e4a86"/>
<rect x="50.20" y="45.80" width="5.40" height="5.40" fill="#a90530"/>
<text x="59.40" y="39.70" font-size="8.56" font-style="italic" fill="#1c1c1c" textLength="27.12" lengthAdjust="spacingAndGlyphs">Coro1A</text>
<text x="86.92" y="36.82" font-size="5.76" font-style="italic" fill="#1c1c1c" stroke-width="0.08">+/+</text>
<text x="59.40" y="51.30" font-size="8.56" font-style="italic" fill="#1c1c1c" textLength="27.12" lengthAdjust="spacingAndGlyphs">Coro1A</text>
<text x="86.92" y="48.42" font-size="5.76" font-style="italic" fill="#1c1c1c" stroke-width="0.08">-/-</text>
<text x="76.20" y="173.40" font-size="8.4" text-anchor="middle" font-weight="normal" font-style="normal" fill="#1c1c1c" >0 min</text>
<text x="76.20" y="183.20" font-size="8.4" text-anchor="middle" font-weight="normal" font-style="normal" fill="#1c1c1c" >fMLP</text>
<text x="137.20" y="173.40" font-size="8.4" text-anchor="middle" font-weight="normal" font-style="normal" fill="#1c1c1c" >15 min</text>
<text x="137.20" y="183.20" font-size="8.4" text-anchor="middle" font-weight="normal" font-style="normal" fill="#1c1c1c" >fMLP</text>
<text x="0" y="0" font-size="9" text-anchor="middle" fill="#1c1c1c" transform="translate(20.60,95.90) rotate(-90)">Rolling leukocytes in cells/min</text>
<text x="177.60" y="17.00" font-size="11" text-anchor="start" font-weight="bold" font-style="normal" fill="#111" >B</text>
<text x="214.40" y="25.80" font-size="9.6" text-anchor="start" font-weight="bold" font-style="normal" fill="#111"  textLength="122.6" lengthAdjust="spacingAndGlyphs">0 min fMLP administration</text>
<rect x="213.30" y="31.00" width="124.70" height="132.10" fill="none" stroke="#111" stroke-width="1.45"/>
<line x1="210.30" y1="163.10" x2="213.30" y2="163.10" stroke="#111" stroke-width="1.0" />
<text x="207.40" y="165.70" font-size="8.0" text-anchor="end" font-weight="normal" font-style="normal" fill="#1c1c1c" >0.0</text>
<line x1="210.30" y1="136.68" x2="213.30" y2="136.68" stroke="#111" stroke-width="1.0" />
<text x="207.40" y="139.28" font-size="8.0" text-anchor="end" font-weight="normal" font-style="normal" fill="#1c1c1c" >0.2</text>
<line x1="210.30" y1="110.26" x2="213.30" y2="110.26" stroke="#111" stroke-width="1.0" />
<text x="207.40" y="112.86" font-size="8.0" text-anchor="end" font-weight="normal" font-style="normal" fill="#1c1c1c" >0.4</text>
<line x1="210.30" y1="83.84" x2="213.30" y2="83.84" stroke="#111" stroke-width="1.0" />
<text x="207.40" y="86.44" font-size="8.0" text-anchor="end" font-weight="normal" font-style="normal" fill="#1c1c1c" >0.6</text>
<line x1="210.30" y1="57.42" x2="213.30" y2="57.42" stroke="#111" stroke-width="1.0" />
<text x="207.40" y="60.02" font-size="8.0" text-anchor="end" font-weight="normal" font-style="normal" fill="#1c1c1c" >0.8</text>
<line x1="210.30" y1="31.00" x2="213.30" y2="31.00" stroke="#111" stroke-width="1.0" />
<text x="207.40" y="33.60" font-size="8.0" text-anchor="end" font-weight="normal" font-style="normal" fill="#1c1c1c" >1.0</text>
<line x1="213.30" y1="163.10" x2="213.30" y2="165.70" stroke="#111" stroke-width="1.0" />
<text x="213.30" y="176.20" font-size="7.8" text-anchor="middle" font-weight="normal" font-style="normal" fill="#1c1c1c" >0</text>
<line x1="234.08" y1="163.10" x2="234.08" y2="165.70" stroke="#111" stroke-width="1.0" />
<text x="234.08" y="176.20" font-size="7.8" text-anchor="middle" font-weight="normal" font-style="normal" fill="#1c1c1c" >10</text>
<line x1="254.87" y1="163.10" x2="254.87" y2="165.70" stroke="#111" stroke-width="1.0" />
<text x="254.87" y="176.20" font-size="7.8" text-anchor="middle" font-weight="normal" font-style="normal" fill="#1c1c1c" >20</text>
<line x1="275.65" y1="163.10" x2="275.65" y2="165.70" stroke="#111" stroke-width="1.0" />
<text x="275.65" y="176.20" font-size="7.8" text-anchor="middle" font-weight="normal" font-style="normal" fill="#1c1c1c" >30</text>
<line x1="296.43" y1="163.10" x2="296.43" y2="165.70" stroke="#111" stroke-width="1.0" />
<text x="296.43" y="176.20" font-size="7.8" text-anchor="middle" font-weight="normal" font-style="normal" fill="#1c1c1c" >40</text>
<line x1="317.22" y1="163.10" x2="317.22" y2="165.70" stroke="#111" stroke-width="1.0" />
<text x="317.22" y="176.20" font-size="7.8" text-anchor="middle" font-weight="normal" font-style="normal" fill="#1c1c1c" >50</text>
<line x1="338.00" y1="163.10" x2="338.00" y2="165.70" stroke="#111" stroke-width="1.0" />
<text x="338.00" y="176.20" font-size="7.8" text-anchor="middle" font-weight="normal" font-style="normal" fill="#1c1c1c" >60</text>
<text x="275.65" y="189.00" font-size="9" text-anchor="middle" font-weight="normal" font-style="normal" fill="#1c1c1c" >Rolling velocity in μm/s</text>
<text x="0" y="0" font-size="8.7" text-anchor="middle" fill="#1c1c1c" textLength="82.6" lengthAdjust="spacingAndGlyphs" transform="translate(189.60,96.50) rotate(-90)">Cumulative frequency</text>
<polyline points="213.3,163.1 222.0,162.6 227.0,161.6 231.0,160.5 234.0,158.0 237.6,154.7 240.9,147.5 245.5,137.0 250.3,126.0 254.0,118.0 257.5,110.0 262.0,98.0 267.0,87.0 272.6,80.4 277.0,73.0 281.4,66.0 285.0,62.5 289.2,60.0 293.6,56.7 299.5,53.7 306.8,49.3 314.2,45.6 321.6,42.7 328.9,39.0 334.8,38.0 338.0,38.0" fill="none" stroke="#2a4560" stroke-width="1.7" stroke-dasharray="1.7,1.6"/>
<polyline points="213.3,163.1 221.6,162.4 225.0,161.6 227.1,161.3 230.5,161.6 233.5,159.8 237.1,156.9 241.5,151.4 244.8,143.6 248.1,134.8 251.4,128.2 254.7,122.7 258.8,114.0 262.0,104.5 265.5,95.0 268.5,90.8 271.5,88.1 273.7,82.6 278.1,73.8 282.5,67.1 288.0,61.6 293.6,57.2 296.5,54.5 300.9,51.5 306.8,48.6 312.7,44.9 317.1,42.0 321.6,40.5 326.0,38.3 330.4,36.5 334.8,35.6 338.0,35.6" fill="none" stroke="#8e1238" stroke-width="1.8" stroke-linejoin="round"/>
<line x1="218.20" y1="40.40" x2="228.00" y2="40.40" stroke="#2a3a50" stroke-width="1.7" stroke-dasharray="1.8,1.6"/>
<line x1="218.50" y1="51.50" x2="227.70" y2="51.50" stroke="#7a1030" stroke-width="1.6" />
<text x="231.00" y="43.20" font-size="8.56" font-style="italic" fill="#1c1c1c" textLength="27.12" lengthAdjust="spacingAndGlyphs">Coro1A</text>
<text x="258.52" y="40.32" font-size="5.76" font-style="italic" fill="#1c1c1c" stroke-width="0.08">+/+</text>
<text x="231.00" y="54.30" font-size="8.56" font-style="italic" fill="#1c1c1c" textLength="27.12" lengthAdjust="spacingAndGlyphs">Coro1A</text>
<text x="258.52" y="51.42" font-size="5.76" font-style="italic" fill="#1c1c1c" stroke-width="0.08">-/-</text>
<text x="382.80" y="25.80" font-size="9.6" text-anchor="start" font-weight="bold" font-style="normal" fill="#111"  textLength="127.0" lengthAdjust="spacingAndGlyphs">15 min fMLP administration</text>
<rect x="383.30" y="31.00" width="124.70" height="132.10" fill="none" stroke="#111" stroke-width="1.45"/>
<line x1="380.30" y1="163.10" x2="383.30" y2="163.10" stroke="#111" stroke-width="1.0" />
<text x="377.40" y="165.70" font-size="8.0" text-anchor="end" font-weight="normal" font-style="normal" fill="#1c1c1c" >0.0</text>
<line x1="380.30" y1="136.68" x2="383.30" y2="136.68" stroke="#111" stroke-width="1.0" />
<text x="377.40" y="139.28" font-size="8.0" text-anchor="end" font-weight="normal" font-style="normal" fill="#1c1c1c" >0.2</text>
<line x1="380.30" y1="110.26" x2="383.30" y2="110.26" stroke="#111" stroke-width="1.0" />
<text x="377.40" y="112.86" font-size="8.0" text-anchor="end" font-weight="normal" font-style="normal" fill="#1c1c1c" >0.4</text>
<line x1="380.30" y1="83.84" x2="383.30" y2="83.84" stroke="#111" stroke-width="1.0" />
<text x="377.40" y="86.44" font-size="8.0" text-anchor="end" font-weight="normal" font-style="normal" fill="#1c1c1c" >0.6</text>
<line x1="380.30" y1="57.42" x2="383.30" y2="57.42" stroke="#111" stroke-width="1.0" />
<text x="377.40" y="60.02" font-size="8.0" text-anchor="end" font-weight="normal" font-style="normal" fill="#1c1c1c" >0.8</text>
<line x1="380.30" y1="31.00" x2="383.30" y2="31.00" stroke="#111" stroke-width="1.0" />
<text x="377.40" y="33.60" font-size="8.0" text-anchor="end" font-weight="normal" font-style="normal" fill="#1c1c1c" >1.0</text>
<line x1="383.30" y1="163.10" x2="383.30" y2="165.70" stroke="#111" stroke-width="1.0" />
<text x="383.30" y="176.20" font-size="7.8" text-anchor="middle" font-weight="normal" font-style="normal" fill="#1c1c1c" >0</text>
<line x1="404.08" y1="163.10" x2="404.08" y2="165.70" stroke="#111" stroke-width="1.0" />
<text x="404.08" y="176.20" font-size="7.8" text-anchor="middle" font-weight="normal" font-style="normal" fill="#1c1c1c" >10</text>
<line x1="424.87" y1="163.10" x2="424.87" y2="165.70" stroke="#111" stroke-width="1.0" />
<text x="424.87" y="176.20" font-size="7.8" text-anchor="middle" font-weight="normal" font-style="normal" fill="#1c1c1c" >20</text>
<line x1="445.65" y1="163.10" x2="445.65" y2="165.70" stroke="#111" stroke-width="1.0" />
<text x="445.65" y="176.20" font-size="7.8" text-anchor="middle" font-weight="normal" font-style="normal" fill="#1c1c1c" >30</text>
<line x1="466.43" y1="163.10" x2="466.43" y2="165.70" stroke="#111" stroke-width="1.0" />
<text x="466.43" y="176.20" font-size="7.8" text-anchor="middle" font-weight="normal" font-style="normal" fill="#1c1c1c" >40</text>
<line x1="487.22" y1="163.10" x2="487.22" y2="165.70" stroke="#111" stroke-width="1.0" />
<text x="487.22" y="176.20" font-size="7.8" text-anchor="middle" font-weight="normal" font-style="normal" fill="#1c1c1c" >50</text>
<line x1="508.00" y1="163.10" x2="508.00" y2="165.70" stroke="#111" stroke-width="1.0" />
<text x="508.00" y="176.20" font-size="7.8" text-anchor="middle" font-weight="normal" font-style="normal" fill="#1c1c1c" >60</text>
<text x="445.65" y="189.00" font-size="9" text-anchor="middle" font-weight="normal" font-style="normal" fill="#1c1c1c" >Rolling velocity in μm/s</text>
<text x="0" y="0" font-size="8.7" text-anchor="middle" fill="#1c1c1c" textLength="82.6" lengthAdjust="spacingAndGlyphs" transform="translate(359.60,96.50) rotate(-90)">Cumulative frequency</text>
<polyline points="383.3,163.1 388.0,162.6 390.1,161.3 394.2,153.2 400.3,141.0 406.3,126.8 412.4,112.7 418.5,99.5 424.6,88.4 430.0,77.3 436.5,65.9 443.1,56.1 449.6,50.3 456.2,47.1 462.7,45.4 469.2,42.2 475.8,38.9 482.3,36.4 490.5,34.5 495.4,33.2 501.9,32.4 508.0,32.4" fill="none" stroke="#2a4560" stroke-width="1.7" stroke-dasharray="1.7,1.6"/>
<polyline points="383.3,163.1 388.1,162.4 395.2,161.9 398.2,158.2 402.3,149.1 406.3,140.0 409.4,133.9 412.4,122.8 416.5,106.6 420.5,92.4 424.6,82.3 430.0,72.4 434.9,62.6 441.4,53.6 446.3,49.5 451.2,44.3 456.2,41.3 461.1,40.9 466.0,40.0 472.5,37.6 477.4,36.1 482.3,36.4 487.2,34.5 492.1,33.2 498.6,32.8 508.0,32.8" fill="none" stroke="#8e1238" stroke-width="1.8" stroke-linejoin="round"/>
<line x1="388.20" y1="40.40" x2="398.00" y2="40.40" stroke="#2a3a50" stroke-width="1.7" stroke-dasharray="1.8,1.6"/>
<line x1="388.50" y1="51.50" x2="397.70" y2="51.50" stroke="#7a1030" stroke-width="1.6" />
<text x="401.00" y="43.20" font-size="8.56" font-style="italic" fill="#1c1c1c" textLength="27.12" lengthAdjust="spacingAndGlyphs">Coro1A</text>
<text x="428.52" y="40.32" font-size="5.76" font-style="italic" fill="#1c1c1c" stroke-width="0.08">+/+</text>
<text x="401.00" y="54.30" font-size="8.56" font-style="italic" fill="#1c1c1c" textLength="27.12" lengthAdjust="spacingAndGlyphs">Coro1A</text>
<text x="428.52" y="51.42" font-size="5.76" font-style="italic" fill="#1c1c1c" stroke-width="0.08">-/-</text>
<text x="7.60" y="218.70" font-size="11" text-anchor="start" font-weight="bold" font-style="normal" fill="#111" >C</text>
<line x1="68.60" y1="351.50" x2="68.60" y2="229.90" stroke="#111" stroke-width="1.5" />
<line x1="65.80" y1="350.80" x2="68.60" y2="350.80" stroke="#111" stroke-width="1.0" />
<text x="62.60" y="353.35" font-size="8.2" text-anchor="end" font-weight="normal" font-style="normal" fill="#1c1c1c" >0</text>
<line x1="65.80" y1="327.26" x2="68.60" y2="327.26" stroke="#111" stroke-width="1.0" />
<text x="62.60" y="329.81" font-size="8.2" text-anchor="end" font-weight="normal" font-style="normal" fill="#1c1c1c" >500</text>
<line x1="65.80" y1="303.72" x2="68.60" y2="303.72" stroke="#111" stroke-width="1.0" />
<text x="62.60" y="306.27" font-size="8.2" text-anchor="end" font-weight="normal" font-style="normal" fill="#1c1c1c" >1,000</text>
<line x1="65.80" y1="280.18" x2="68.60" y2="280.18" stroke="#111" stroke-width="1.0" />
<text x="62.60" y="282.73" font-size="8.2" text-anchor="end" font-weight="normal" font-style="normal" fill="#1c1c1c" >1,500</text>
<line x1="65.80" y1="256.64" x2="68.60" y2="256.64" stroke="#111" stroke-width="1.0" />
<text x="62.60" y="259.19" font-size="8.2" text-anchor="end" font-weight="normal" font-style="normal" fill="#1c1c1c" >2,000</text>
<line x1="65.80" y1="233.10" x2="68.60" y2="233.10" stroke="#111" stroke-width="1.0" />
<text x="62.60" y="235.65" font-size="8.2" text-anchor="end" font-weight="normal" font-style="normal" fill="#1c1c1c" >2,500</text>
<line x1="64.40" y1="350.80" x2="223.80" y2="350.80" stroke="#111" stroke-width="1.5" />
<rect x="79.40" y="322.55" width="7.70" height="28.25" fill="#2e4a86"/>
<line x1="83.25" y1="322.55" x2="83.25" y2="319.26" stroke="#1a1a1a" stroke-width="1.2" />
<line x1="81.25" y1="319.26" x2="85.25" y2="319.26" stroke="#1a1a1a" stroke-width="1.3" />
<rect x="87.10" y="323.26" width="7.70" height="27.54" fill="#a90530"/>
<line x1="90.95" y1="323.26" x2="90.95" y2="320.43" stroke="#1a1a1a" stroke-width="1.2" />
<line x1="88.95" y1="320.43" x2="92.95" y2="320.43" stroke="#1a1a1a" stroke-width="1.3" />
<rect x="102.90" y="313.14" width="7.70" height="37.66" fill="#2e4a86"/>
<line x1="106.75" y1="313.14" x2="106.75" y2="308.66" stroke="#1a1a1a" stroke-width="1.2" />
<line x1="104.75" y1="308.66" x2="108.75" y2="308.66" stroke="#1a1a1a" stroke-width="1.3" />
<rect x="110.60" y="326.79" width="7.70" height="24.01" fill="#a90530"/>
<line x1="114.45" y1="326.79" x2="114.45" y2="323.73" stroke="#1a1a1a" stroke-width="1.2" />
<line x1="112.45" y1="323.73" x2="116.45" y2="323.73" stroke="#1a1a1a" stroke-width="1.3" />
<rect x="126.50" y="302.54" width="7.70" height="48.26" fill="#2e4a86"/>
<line x1="130.35" y1="302.54" x2="130.35" y2="296.19" stroke="#1a1a1a" stroke-width="1.2" />
<line x1="128.35" y1="296.19" x2="132.35" y2="296.19" stroke="#1a1a1a" stroke-width="1.3" />
<rect x="134.20" y="325.14" width="7.70" height="25.66" fill="#a90530"/>
<line x1="138.05" y1="325.14" x2="138.05" y2="320.67" stroke="#1a1a1a" stroke-width="1.2" />
<line x1="136.05" y1="320.67" x2="140.05" y2="320.67" stroke="#1a1a1a" stroke-width="1.3" />
<rect x="149.80" y="290.30" width="7.70" height="60.50" fill="#2e4a86"/>
<line x1="153.65" y1="290.30" x2="153.65" y2="281.83" stroke="#1a1a1a" stroke-width="1.2" />
<line x1="151.65" y1="281.83" x2="155.65" y2="281.83" stroke="#1a1a1a" stroke-width="1.3" />
<rect x="157.50" y="327.73" width="7.70" height="23.07" fill="#a90530"/>
<line x1="161.35" y1="327.73" x2="161.35" y2="324.44" stroke="#1a1a1a" stroke-width="1.2" />
<line x1="159.35" y1="324.44" x2="163.35" y2="324.44" stroke="#1a1a1a" stroke-width="1.3" />
<rect x="173.30" y="274.06" width="7.70" height="76.74" fill="#2e4a86"/>
<line x1="177.15" y1="274.06" x2="177.15" y2="261.82" stroke="#1a1a1a" stroke-width="1.2" />
<line x1="175.15" y1="261.82" x2="179.15" y2="261.82" stroke="#1a1a1a" stroke-width="1.3" />
<rect x="181.00" y="326.08" width="7.70" height="24.72" fill="#a90530"/>
<line x1="184.85" y1="326.08" x2="184.85" y2="323.02" stroke="#1a1a1a" stroke-width="1.2" />
<line x1="182.85" y1="323.02" x2="186.85" y2="323.02" stroke="#1a1a1a" stroke-width="1.3" />
<rect x="196.70" y="275.47" width="7.70" height="75.33" fill="#2e4a86"/>
<line x1="200.55" y1="275.47" x2="200.55" y2="265.59" stroke="#1a1a1a" stroke-width="1.2" />
<line x1="198.55" y1="265.59" x2="202.55" y2="265.59" stroke="#1a1a1a" stroke-width="1.3" />
<rect x="204.40" y="324.44" width="7.70" height="26.36" fill="#a90530"/>
<line x1="208.25" y1="324.44" x2="208.25" y2="321.38" stroke="#1a1a1a" stroke-width="1.2" />
<line x1="206.25" y1="321.38" x2="210.25" y2="321.38" stroke="#1a1a1a" stroke-width="1.3" />
<line x1="82.80" y1="312.10" x2="91.80" y2="312.10" stroke="#1a1a1a" stroke-width="1.5" />
<text x="87.30" y="308.80" font-size="7.6" text-anchor="middle" font-weight="normal" font-style="normal" fill="#1c1c1c" >n.s.</text>
<line x1="107.20" y1="299.50" x2="116.30" y2="299.50" stroke="#1a1a1a" stroke-width="1.5" />
<circle cx="111.75" cy="295.40" r="1.2" fill="#111"/>
<line x1="130.50" y1="288.40" x2="139.50" y2="288.40" stroke="#1a1a1a" stroke-width="1.5" />
<circle cx="135.00" cy="284.30" r="1.2" fill="#111"/>
<line x1="153.50" y1="273.80" x2="162.50" y2="273.80" stroke="#1a1a1a" stroke-width="1.5" />
<circle cx="158.00" cy="269.70" r="1.2" fill="#111"/>
<line x1="177.50" y1="253.40" x2="187.00" y2="253.40" stroke="#1a1a1a" stroke-width="1.5" />
<circle cx="182.25" cy="249.30" r="1.2" fill="#111"/>
<line x1="201.20" y1="258.00" x2="210.20" y2="258.00" stroke="#1a1a1a" stroke-width="1.5" />
<circle cx="205.70" cy="253.90" r="1.2" fill="#111"/>
<text x="87.10" y="361.00" font-size="8.2" text-anchor="middle" font-weight="normal" font-style="normal" fill="#1c1c1c" >0</text>
<text x="110.60" y="361.00" font-size="8.2" text-anchor="middle" font-weight="normal" font-style="normal" fill="#1c1c1c" >1</text>
<text x="134.20" y="361.00" font-size="8.2" text-anchor="middle" font-weight="normal" font-style="normal" fill="#1c1c1c" >3</text>
<text x="157.50" y="361.00" font-size="8.2" text-anchor="middle" font-weight="normal" font-style="normal" fill="#1c1c1c" >5</text>
<text x="181.00" y="361.00" font-size="8.2" text-anchor="middle" font-weight="normal" font-style="normal" fill="#1c1c1c" >10</text>
<text x="204.40" y="361.00" font-size="8.2" text-anchor="middle" font-weight="normal" font-style="normal" fill="#1c1c1c" >15</text>
<text x="146.40" y="374.60" font-size="9" text-anchor="middle" font-weight="normal" font-style="normal" fill="#1c1c1c" >Time in min</text>
<rect x="75.80" y="238.00" width="5.00" height="5.00" fill="#2e4a86"/>
<rect x="75.80" y="250.00" width="5.00" height="5.00" fill="#a90530"/>
<text x="84.40" y="243.70" font-size="8.56" font-style="italic" fill="#1c1c1c" textLength="27.12" lengthAdjust="spacingAndGlyphs">Coro1A</text>
<text x="111.92" y="240.82" font-size="5.76" font-style="italic" fill="#1c1c1c" stroke-width="0.08">+/+</text>
<text x="84.40" y="255.80" font-size="8.56" font-style="italic" fill="#1c1c1c" textLength="27.12" lengthAdjust="spacingAndGlyphs">Coro1A</text>
<text x="111.92" y="252.92" font-size="5.76" font-style="italic" fill="#1c1c1c" stroke-width="0.08">-/-</text>
<text x="0" y="0" font-size="8.8" text-anchor="middle" fill="#1c1c1c" textLength="78.0" lengthAdjust="spacingAndGlyphs" transform="translate(24.00,290.70) rotate(-90)">Adherent leukocytes</text>
<text x="0" y="0" font-size="9" text-anchor="middle" fill="#1c1c1c" transform="translate(35.2,289.0) rotate(-90)">in cells/mm<tspan font-size="6.5" dy="-3.6" stroke-width="0.1">2</tspan></text>
<text x="240.00" y="218.70" font-size="11" text-anchor="start" font-weight="bold" font-style="normal" fill="#111" >D</text>
<line x1="289.60" y1="351.40" x2="289.60" y2="230.00" stroke="#111" stroke-width="1.5" />
<line x1="286.80" y1="350.70" x2="289.60" y2="350.70" stroke="#111" stroke-width="1.0" />
<text x="283.10" y="353.25" font-size="8.2" text-anchor="end" font-weight="normal" font-style="normal" fill="#1c1c1c" >0</text>
<line x1="286.80" y1="331.10" x2="289.60" y2="331.10" stroke="#111" stroke-width="1.0" />
<text x="283.10" y="333.65" font-size="8.2" text-anchor="end" font-weight="normal" font-style="normal" fill="#1c1c1c" >2</text>
<line x1="286.80" y1="311.50" x2="289.60" y2="311.50" stroke="#111" stroke-width="1.0" />
<text x="283.10" y="314.05" font-size="8.2" text-anchor="end" font-weight="normal" font-style="normal" fill="#1c1c1c" >4</text>
<line x1="286.80" y1="291.90" x2="289.60" y2="291.90" stroke="#111" stroke-width="1.0" />
<text x="283.10" y="294.45" font-size="8.2" text-anchor="end" font-weight="normal" font-style="normal" fill="#1c1c1c" >6</text>
<line x1="286.80" y1="272.30" x2="289.60" y2="272.30" stroke="#111" stroke-width="1.0" />
<text x="283.10" y="274.85" font-size="8.2" text-anchor="end" font-weight="normal" font-style="normal" fill="#1c1c1c" >8</text>
<line x1="286.80" y1="252.70" x2="289.60" y2="252.70" stroke="#111" stroke-width="1.0" />
<text x="283.10" y="255.25" font-size="8.2" text-anchor="end" font-weight="normal" font-style="normal" fill="#1c1c1c" >10</text>
<line x1="286.80" y1="233.10" x2="289.60" y2="233.10" stroke="#111" stroke-width="1.0" />
<text x="283.10" y="235.65" font-size="8.2" text-anchor="end" font-weight="normal" font-style="normal" fill="#1c1c1c" >12</text>
<line x1="289.00" y1="350.70" x2="341.50" y2="350.70" stroke="#111" stroke-width="1.5" />
<rect x="300.40" y="261.52" width="15.40" height="89.18" fill="#2e4a86"/>
<line x1="308.10" y1="261.52" x2="308.10" y2="240.45" stroke="#1a1a1a" stroke-width="1.2" />
<line x1="305.85" y1="240.45" x2="310.35" y2="240.45" stroke="#1a1a1a" stroke-width="1.3" />
<rect x="315.80" y="313.46" width="15.40" height="37.24" fill="#a90530"/>
<line x1="323.50" y1="313.46" x2="323.50" y2="304.64" stroke="#1a1a1a" stroke-width="1.2" />
<line x1="321.25" y1="304.64" x2="325.75" y2="304.64" stroke="#1a1a1a" stroke-width="1.3" />
<line x1="308.10" y1="233.80" x2="324.00" y2="233.80" stroke="#1a1a1a" stroke-width="1.5" />
<circle cx="316.05" cy="229.30" r="1.2" fill="#111"/>
<rect x="327.20" y="242.70" width="5.10" height="5.10" fill="#2e4a86"/>
<rect x="327.20" y="254.30" width="5.10" height="5.10" fill="#a90530"/>
<text x="335.90" y="248.10" font-size="8.56" font-style="italic" fill="#1c1c1c" textLength="27.12" lengthAdjust="spacingAndGlyphs">Coro1A</text>
<text x="363.42" y="245.22" font-size="5.76" font-style="italic" fill="#1c1c1c" stroke-width="0.08">+/+</text>
<text x="335.90" y="259.80" font-size="8.56" font-style="italic" fill="#1c1c1c" textLength="27.12" lengthAdjust="spacingAndGlyphs">Coro1A</text>
<text x="363.42" y="256.92" font-size="5.76" font-style="italic" fill="#1c1c1c" stroke-width="0.08">-/-</text>
<text x="0" y="0" font-size="9" text-anchor="middle" fill="#1c1c1c" textLength="86.0" lengthAdjust="spacingAndGlyphs" transform="translate(257.60,293.40) rotate(-90)">Intraluminal crawling</text>
<text x="0" y="0" font-size="9" text-anchor="middle" fill="#1c1c1c" transform="translate(269.50,290.20) rotate(-90)">velocity in μm/min</text>
<line x1="424.40" y1="351.60" x2="424.40" y2="228.60" stroke="#111" stroke-width="1.5" />
<line x1="421.60" y1="350.90" x2="424.40" y2="350.90" stroke="#111" stroke-width="1.0" />
<text x="419.10" y="353.45" font-size="8.2" text-anchor="end" font-weight="normal" font-style="normal" fill="#1c1c1c" >0</text>
<line x1="421.60" y1="331.03" x2="424.40" y2="331.03" stroke="#111" stroke-width="1.0" />
<text x="419.10" y="333.59" font-size="8.2" text-anchor="end" font-weight="normal" font-style="normal" fill="#1c1c1c" >2</text>
<line x1="421.60" y1="311.17" x2="424.40" y2="311.17" stroke="#111" stroke-width="1.0" />
<text x="419.10" y="313.72" font-size="8.2" text-anchor="end" font-weight="normal" font-style="normal" fill="#1c1c1c" >4</text>
<line x1="421.60" y1="291.30" x2="424.40" y2="291.30" stroke="#111" stroke-width="1.0" />
<text x="419.10" y="293.85" font-size="8.2" text-anchor="end" font-weight="normal" font-style="normal" fill="#1c1c1c" >6</text>
<line x1="421.60" y1="271.43" x2="424.40" y2="271.43" stroke="#111" stroke-width="1.0" />
<text x="419.10" y="273.99" font-size="8.2" text-anchor="end" font-weight="normal" font-style="normal" fill="#1c1c1c" >8</text>
<line x1="421.60" y1="251.57" x2="424.40" y2="251.57" stroke="#111" stroke-width="1.0" />
<text x="419.10" y="254.12" font-size="8.2" text-anchor="end" font-weight="normal" font-style="normal" fill="#1c1c1c" >10</text>
<line x1="421.60" y1="231.70" x2="424.40" y2="231.70" stroke="#111" stroke-width="1.0" />
<text x="419.10" y="234.25" font-size="8.2" text-anchor="end" font-weight="normal" font-style="normal" fill="#1c1c1c" >12</text>
<line x1="423.80" y1="350.90" x2="481.80" y2="350.90" stroke="#111" stroke-width="1.5" />
<rect x="436.50" y="259.51" width="16.20" height="91.39" fill="#2e4a86"/>
<line x1="444.60" y1="259.51" x2="444.60" y2="236.67" stroke="#1a1a1a" stroke-width="1.2" />
<line x1="442.35" y1="236.67" x2="446.85" y2="236.67" stroke="#1a1a1a" stroke-width="1.3" />
<rect x="452.70" y="294.28" width="16.20" height="56.62" fill="#a90530"/>
<line x1="460.80" y1="294.28" x2="460.80" y2="286.33" stroke="#1a1a1a" stroke-width="1.2" />
<line x1="458.55" y1="286.33" x2="463.05" y2="286.33" stroke="#1a1a1a" stroke-width="1.3" />
<line x1="444.60" y1="230.60" x2="462.10" y2="230.60" stroke="#1a1a1a" stroke-width="1.5" />
<circle cx="453.35" cy="226.10" r="1.2" fill="#111"/>
<rect x="465.60" y="242.70" width="5.10" height="5.10" fill="#2e4a86"/>
<rect x="465.60" y="254.30" width="5.10" height="5.10" fill="#a90530"/>
<text x="474.30" y="248.10" font-size="8.56" font-style="italic" fill="#1c1c1c" textLength="27.12" lengthAdjust="spacingAndGlyphs">Coro1A</text>
<text x="501.82" y="245.22" font-size="5.76" font-style="italic" fill="#1c1c1c" stroke-width="0.08">+/+</text>
<text x="474.30" y="259.80" font-size="8.56" font-style="italic" fill="#1c1c1c" textLength="27.12" lengthAdjust="spacingAndGlyphs">Coro1A</text>
<text x="501.82" y="256.92" font-size="5.76" font-style="italic" fill="#1c1c1c" stroke-width="0.08">-/-</text>
<text x="0" y="0" font-size="9" text-anchor="middle" fill="#1c1c1c" textLength="85.2" lengthAdjust="spacingAndGlyphs" transform="translate(392.40,289.20) rotate(-90)">Intraluminal Euclidean</text>
<text x="0" y="0" font-size="9" text-anchor="middle" fill="#1c1c1c" transform="translate(403.40,290.70) rotate(-90)">distance in μm</text>
<text x="7.60" y="402.90" font-size="11" text-anchor="start" font-weight="bold" font-style="normal" fill="#111" >E</text>
<text x="58.23" y="412.50" font-size="9.60" font-style="italic" fill="#1c1c1c" textLength="32.54" lengthAdjust="spacingAndGlyphs">Coro1A</text>
<text x="91.17" y="409.81" font-size="6.91" font-style="italic" fill="#1c1c1c" stroke-width="0.08">+/+</text>
<text x="193.47" y="412.50" font-size="9.60" font-style="italic" fill="#1c1c1c" textLength="32.54" lengthAdjust="spacingAndGlyphs">Coro1A</text>
<text x="226.41" y="409.81" font-size="6.91" font-style="italic" fill="#1c1c1c" stroke-width="0.08">-/-</text>
<text x="282.40" y="402.70" font-size="11" text-anchor="start" font-weight="bold" font-style="normal" fill="#111" >F</text>
<line x1="344.00" y1="510.30" x2="344.00" y2="417.90" stroke="#111" stroke-width="1.5" />
<line x1="341.20" y1="509.60" x2="344.00" y2="509.60" stroke="#111" stroke-width="1.0" />
<text x="339.00" y="512.15" font-size="8.2" text-anchor="end" font-weight="normal" font-style="normal" fill="#1c1c1c" >0</text>
<line x1="341.20" y1="491.84" x2="344.00" y2="491.84" stroke="#111" stroke-width="1.0" />
<text x="339.00" y="494.39" font-size="8.2" text-anchor="end" font-weight="normal" font-style="normal" fill="#1c1c1c" >500</text>
<line x1="341.20" y1="474.08" x2="344.00" y2="474.08" stroke="#111" stroke-width="1.0" />
<text x="339.00" y="476.63" font-size="8.2" text-anchor="end" font-weight="normal" font-style="normal" fill="#1c1c1c" >1,000</text>
<line x1="341.20" y1="456.32" x2="344.00" y2="456.32" stroke="#111" stroke-width="1.0" />
<text x="339.00" y="458.87" font-size="8.2" text-anchor="end" font-weight="normal" font-style="normal" fill="#1c1c1c" >1,500</text>
<line x1="341.20" y1="438.56" x2="344.00" y2="438.56" stroke="#111" stroke-width="1.0" />
<text x="339.00" y="441.11" font-size="8.2" text-anchor="end" font-weight="normal" font-style="normal" fill="#1c1c1c" >2,000</text>
<line x1="341.20" y1="420.80" x2="344.00" y2="420.80" stroke="#111" stroke-width="1.0" />
<text x="339.00" y="423.35" font-size="8.2" text-anchor="end" font-weight="normal" font-style="normal" fill="#1c1c1c" >2,500</text>
<line x1="343.40" y1="509.60" x2="477.30" y2="509.60" stroke="#111" stroke-width="1.5" />
<rect x="351.70" y="490.42" width="14.80" height="19.18" fill="#2e4a86"/>
<line x1="359.10" y1="490.42" x2="359.10" y2="489.71" stroke="#1a1a1a" stroke-width="1.2" />
<line x1="355.10" y1="489.71" x2="363.10" y2="489.71" stroke="#1a1a1a" stroke-width="1.3" />
<rect x="366.50" y="499.65" width="14.80" height="9.95" fill="#a90530"/>
<line x1="373.90" y1="499.65" x2="373.90" y2="495.92" stroke="#1a1a1a" stroke-width="1.2" />
<line x1="369.90" y1="495.92" x2="377.90" y2="495.92" stroke="#1a1a1a" stroke-width="1.3" />
<rect x="396.40" y="476.92" width="14.80" height="32.68" fill="#2e4a86"/>
<line x1="403.80" y1="476.92" x2="403.80" y2="473.37" stroke="#1a1a1a" stroke-width="1.2" />
<line x1="399.80" y1="473.37" x2="407.80" y2="473.37" stroke="#1a1a1a" stroke-width="1.3" />
<rect x="411.20" y="494.50" width="14.80" height="15.10" fill="#a90530"/>
<line x1="418.60" y1="494.50" x2="418.60" y2="487.22" stroke="#1a1a1a" stroke-width="1.2" />
<line x1="414.60" y1="487.22" x2="422.60" y2="487.22" stroke="#1a1a1a" stroke-width="1.3" />
<rect x="440.80" y="448.86" width="14.80" height="60.74" fill="#2e4a86"/>
<line x1="448.20" y1="448.86" x2="448.20" y2="438.92" stroke="#1a1a1a" stroke-width="1.2" />
<line x1="444.20" y1="438.92" x2="452.20" y2="438.92" stroke="#1a1a1a" stroke-width="1.3" />
<rect x="455.60" y="491.84" width="14.80" height="17.76" fill="#a90530"/>
<line x1="463.00" y1="491.84" x2="463.00" y2="485.45" stroke="#1a1a1a" stroke-width="1.2" />
<line x1="459.00" y1="485.45" x2="467.00" y2="485.45" stroke="#1a1a1a" stroke-width="1.3" />
<line x1="359.20" y1="485.80" x2="375.00" y2="485.80" stroke="#1a1a1a" stroke-width="1.5" />
<text x="367.10" y="482.50" font-size="7.6" text-anchor="middle" font-weight="normal" font-style="normal" fill="#1c1c1c" >n.s.</text>
<line x1="403.80" y1="470.80" x2="419.80" y2="470.80" stroke="#1a1a1a" stroke-width="1.5" />
<circle cx="411.80" cy="466.30" r="1.2" fill="#111"/>
<line x1="447.50" y1="435.80" x2="464.60" y2="435.80" stroke="#1a1a1a" stroke-width="1.5" />
<circle cx="456.05" cy="431.30" r="1.2" fill="#111"/>
<text x="366.50" y="519.80" font-size="8.2" text-anchor="middle" font-weight="normal" font-style="normal" fill="#1c1c1c" >60</text>
<text x="411.20" y="519.80" font-size="8.2" text-anchor="middle" font-weight="normal" font-style="normal" fill="#1c1c1c" >70</text>
<text x="455.60" y="519.80" font-size="8.2" text-anchor="middle" font-weight="normal" font-style="normal" fill="#1c1c1c" >80</text>
<text x="411.60" y="533.30" font-size="9" text-anchor="middle" font-weight="normal" font-style="normal" fill="#1c1c1c" >Time in min</text>
<rect x="350.50" y="423.00" width="4.90" height="4.90" fill="#2e4a86"/>
<rect x="350.50" y="435.40" width="4.90" height="4.90" fill="#a90530"/>
<text x="358.80" y="428.00" font-size="8.56" font-style="italic" fill="#1c1c1c" textLength="27.12" lengthAdjust="spacingAndGlyphs">Coro1A</text>
<text x="386.32" y="425.12" font-size="5.76" font-style="italic" fill="#1c1c1c" stroke-width="0.08">+/+</text>
<text x="358.80" y="440.30" font-size="8.56" font-style="italic" fill="#1c1c1c" textLength="27.12" lengthAdjust="spacingAndGlyphs">Coro1A</text>
<text x="386.32" y="437.42" font-size="5.76" font-style="italic" fill="#1c1c1c" stroke-width="0.08">-/-</text>
<text x="0" y="0" font-size="9" text-anchor="middle" fill="#1c1c1c" transform="translate(301.00,463.20) rotate(-90)">Interstitial PMNs</text>
<text x="0" y="0" font-size="9" text-anchor="middle" fill="#1c1c1c" transform="translate(312.0,463.5) rotate(-90)">in cells/mm<tspan font-size="6.5" dy="-3.6" stroke-width="0.1">2</tspan></text>
</svg>
</body></html>
